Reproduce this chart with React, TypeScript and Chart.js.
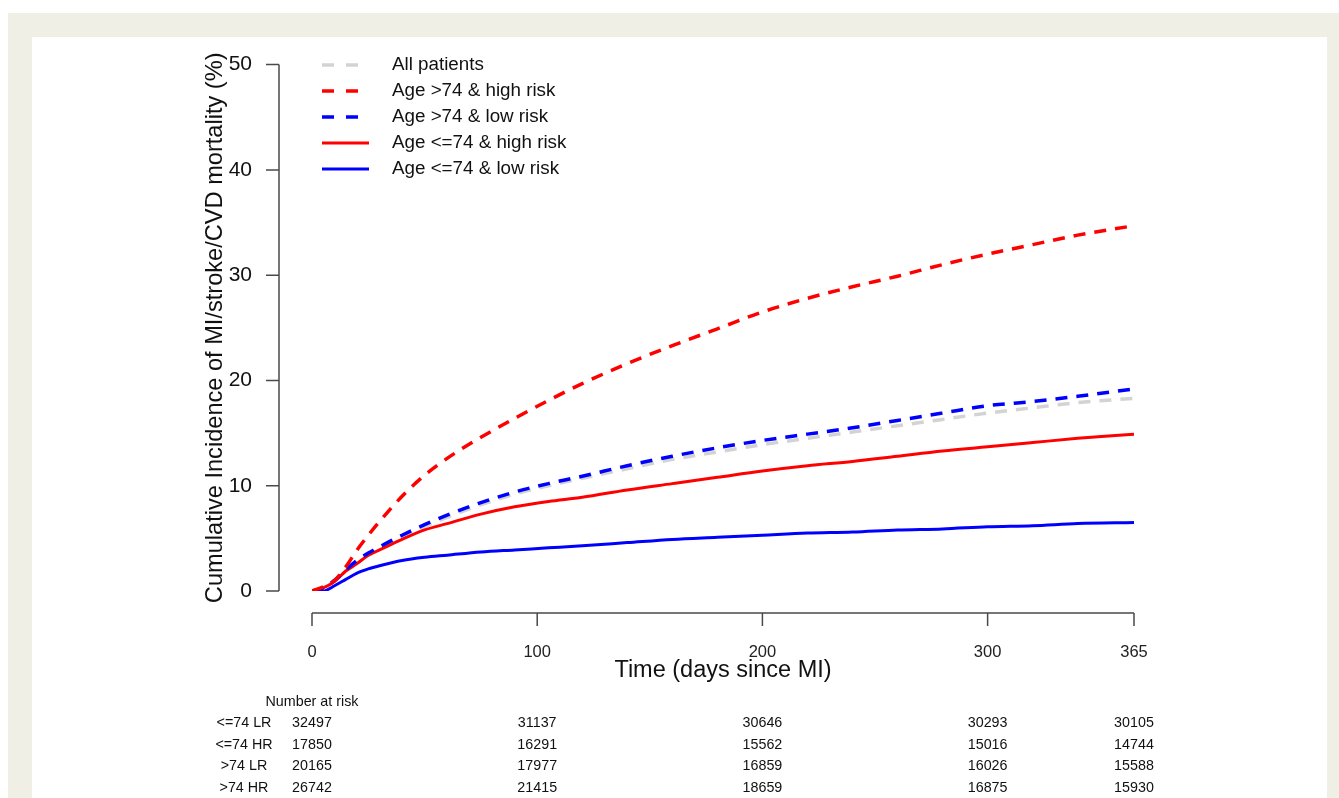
import React, { useEffect, useRef } from "react";
import { Chart, registerables } from "chart.js";

Chart.register(...registerables);

// Time points (days since MI)
const days = [0, 5, 10, 15, 20, 25, 30, 40, 50, 60, 75, 90, 105, 120, 140, 160, 180, 200, 220, 240, 260, 280, 300, 320, 340, 365];

// Cumulative incidence (%)
const allPatients = [0, 0.3, 1.0, 1.9, 2.7, 3.4, 4.0, 5.1, 6.1, 7.0, 8.2, 9.2, 10.0, 10.7, 11.6, 12.5, 13.2, 13.9, 14.5, 15.1, 15.7, 16.3, 16.9, 17.4, 17.9, 18.3];
const over74High = [0, 0.4, 1.0, 2.3, 3.9, 5.3, 6.6, 9.0, 11.0, 12.6, 14.6, 16.4, 18.1, 19.7, 21.6, 23.3, 24.9, 26.5, 27.8, 28.9, 29.9, 31.0, 32.0, 32.9, 33.8, 34.7];
const over74Low = [0, 0.3, 1.0, 2.0, 2.9, 3.6, 4.2, 5.3, 6.3, 7.2, 8.4, 9.4, 10.2, 10.9, 11.9, 12.8, 13.6, 14.3, 14.9, 15.5, 16.2, 16.9, 17.6, 18.0, 18.5, 19.2];
const upto74High = [0, 0.3, 0.9, 1.9, 2.6, 3.4, 3.9, 4.9, 5.8, 6.4, 7.3, 8.0, 8.5, 8.9, 9.6, 10.2, 10.8, 11.4, 11.9, 12.3, 12.8, 13.3, 13.7, 14.1, 14.5, 14.9];
const upto74Low = [0, 0.0, 0.5, 1.1, 1.7, 2.1, 2.4, 2.9, 3.2, 3.4, 3.7, 3.9, 4.1, 4.3, 4.6, 4.9, 5.1, 5.3, 5.5, 5.6, 5.8, 5.9, 6.1, 6.2, 6.4, 6.5];

const xTickValues = [0, 100, 200, 300, 365];
const yTickValues = [0, 10, 20, 30, 40, 50];

const legendLabels = ["All patients", "Age >74 & high risk", "Age >74 & low risk", "Age <=74 & high risk", "Age <=74 & low risk"];

// Number at risk table
const riskTitle = "Number at risk";
const riskRowLabels = ["<=74 LR", "<=74 HR", ">74 LR", ">74 HR"];
const riskUpto74Low = [32497, 31137, 30646, 30293, 30105];
const riskUpto74High = [17850, 16291, 15562, 15016, 14744];
const riskOver74Low = [20165, 17977, 16859, 16026, 15588];
const riskOver74High = [26742, 21415, 18659, 16875, 15930];

const FONT = "'Liberation Sans', Arial, Helvetica, sans-serif";

const toPoints = (vals: number[]) => vals.map((v, i) => ({ x: days[i], y: v }));

const decorPlugin = {
  id: "decor",
  afterDraw(chart: any) {
    const { ctx, chartArea, scales } = chart;
    const xs = scales.x;
    const ys = scales.y;
    ctx.save();
    // R-style detached axes
    ctx.strokeStyle = "#4a4a4a";
    ctx.lineWidth = 1.5;
    const axX = chartArea.left - 33;
    const axY = chartArea.bottom + 22;
    ctx.beginPath();
    ctx.moveTo(axX, ys.getPixelForValue(yTickValues[yTickValues.length - 1]));
    ctx.lineTo(axX, ys.getPixelForValue(yTickValues[0]));
    for (const v of yTickValues) {
      const p = ys.getPixelForValue(v);
      ctx.moveTo(axX, p);
      ctx.lineTo(axX - 13, p);
    }
    ctx.moveTo(xs.getPixelForValue(xTickValues[0]), axY);
    ctx.lineTo(xs.getPixelForValue(xTickValues[xTickValues.length - 1]), axY);
    for (const v of xTickValues) {
      const p = xs.getPixelForValue(v);
      ctx.moveTo(p, axY);
      ctx.lineTo(p, axY + 13);
    }
    ctx.stroke();

    // Legend
    const ds = chart.data.datasets;
    ctx.font = `18.8px ${FONT}`;
    ctx.textBaseline = "middle";
    ctx.textAlign = "left";
    ds.forEach((d: any, i: number) => {
      const y = chartArea.top + 0.5 + i * 26;
      ctx.beginPath();
      ctx.strokeStyle = d.borderColor;
      ctx.lineWidth = d.borderWidth;
      ctx.setLineDash(d.borderDash && d.borderDash.length ? [12, 12] : []);
      ctx.moveTo(chartArea.left + 10, y);
      ctx.lineTo(chartArea.left + 57, y);
      ctx.stroke();
      ctx.setLineDash([]);
      ctx.fillStyle = "#111";
      ctx.fillText(d.label, chartArea.left + 80, y);
    });

    // Number at risk table
    ctx.fillStyle = "#111";
    ctx.font = `14.3px ${FONT}`;
    ctx.textAlign = "center";
    const baseY = chartArea.bottom + 111.5;
    ctx.fillText(riskTitle, xs.getPixelForValue(0), baseY);
    const rows = [riskUpto74Low, riskUpto74High, riskOver74Low, riskOver74High];
    rows.forEach((row, r) => {
      const y = baseY + 21 + r * 21.4;
      ctx.fillText(riskRowLabels[r], chartArea.left - 68, y);
      row.forEach((n, c) => {
        ctx.fillText(String(n), xs.getPixelForValue(xTickValues[c]), y);
      });
    });
    ctx.restore();
  },
};

export default function App() {
  const ref = useRef<HTMLCanvasElement | null>(null);

  useEffect(() => {
    document.body.style.overflow = "hidden";
    const canvas = ref.current;
    if (!canvas) return;
    const dashed = [12, 9];
    const chart = new Chart(canvas, {
      type: "line",
      data: {
        datasets: [
          { label: legendLabels[0], data: toPoints(allPatients), borderColor: "#d3d3d3", borderWidth: 3.5, borderDash: dashed, order: 10 },
          { label: legendLabels[1], data: toPoints(over74High), borderColor: "#ff0000", borderWidth: 3.5, borderDash: dashed, order: 1 },
          { label: legendLabels[2], data: toPoints(over74Low), borderColor: "#0000ff", borderWidth: 3.5, borderDash: dashed, order: 2 },
          { label: legendLabels[3], data: toPoints(upto74High), borderColor: "#ff0000", borderWidth: 3, borderDash: [], order: 3 },
          { label: legendLabels[4], data: toPoints(upto74Low), borderColor: "#0000ff", borderWidth: 3, borderDash: [], order: 4 },
        ] as any,
      },
      options: {
        animation: false,
        responsive: false,
        maintainAspectRatio: false,
        parsing: false as any,
        elements: { point: { radius: 0 }, line: { cubicInterpolationMode: "monotone" } },
        layout: { padding: { left: 0, top: 0, right: 205, bottom: 0 } },
        plugins: { legend: { display: false }, tooltip: { enabled: false } },
        scales: {
          x: {
            type: "linear",
            min: 0,
            max: 365,
            afterBuildTicks: (s: any) => {
              s.ticks = xTickValues.map((v) => ({ value: v }));
            },
            afterFit: (s: any) => {
              s.height = 207;
            },
            grid: { display: false, drawTicks: false },
            border: { display: false },
            ticks: { font: { family: FONT, size: 16.5 }, color: "#222", padding: 52, maxRotation: 0, autoSkip: false },
            title: {
              display: true,
              text: "Time (days since MI)",
              font: { family: FONT, size: 23.5 },
              color: "#111",
              padding: { top: 0, bottom: 113 },
            },
          },
          y: {
            type: "linear",
            min: 0,
            max: 50,
            afterBuildTicks: (s: any) => {
              s.ticks = yTickValues.map((v) => ({ value: v }));
            },
            afterFit: (s: any) => {
              s.width = 312;
            },
            grid: { display: false, drawTicks: false },
            border: { display: false },
            ticks: { font: { family: FONT, size: 21 }, color: "#111", padding: 60 },
            title: {
              display: true,
              text: "Cumulative Incidence of MI/stroke/CVD mortality (%)",
              font: { family: FONT, size: 23.6 },
              color: "#111",
              padding: { top: 201, bottom: 0 },
            },
          },
        },
      } as any,
      plugins: [decorPlugin],
    });
    return () => chart.destroy();
  }, []);

  return (
    <div>
      <div style={{ position: "absolute", left: 8, top: 13, width: 1331, height: 785, background: "#efefe6" }} />
      <div style={{ position: "absolute", left: 32, top: 37, width: 1295, height: 761, background: "#ffffff" }} />
      <canvas
        ref={ref}
        width={1339}
        height={806}
        style={{ position: "absolute", left: 0, top: -8, display: "block", width: 1339, height: 806 }}
      />
    </div>
  );
}
